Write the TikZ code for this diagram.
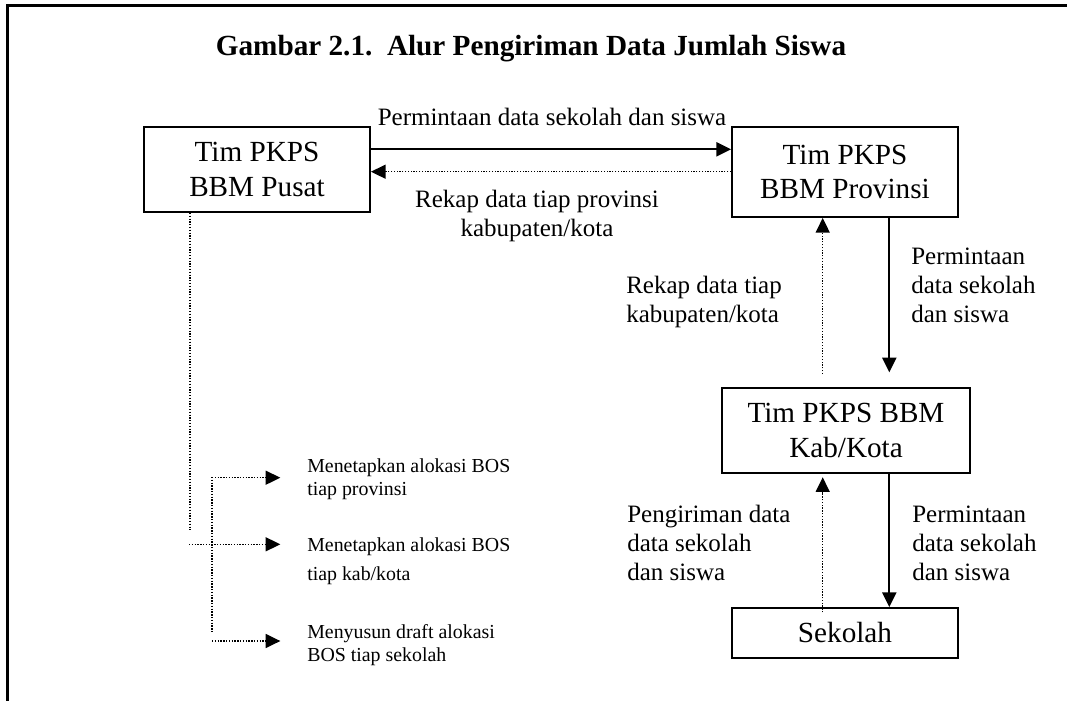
\documentclass[tikz,border=0pt]{standalone}
\usepackage{fontspec}
\setmainfont{Liberation Serif}
\usetikzlibrary{arrows.meta}

% type sizes
\newcommand\boxfont{\fontsize{21.9}{25.9}\selectfont}
\newcommand\lblfont{\fontsize{18.75}{21.6}\selectfont}
\newcommand\notefont{\fontsize{14.9}{17}\selectfont}
\newcommand\headfont{\fontsize{21.9}{25.9}\selectfont\bfseries}

\tikzset{
  unitbox/.style={draw, line width=1.4pt, inner sep=0pt, align=center, font=\boxfont},
  lbl/.style={inner sep=0pt, font=\lblfont},
  note/.style={inner sep=0pt, align=left, font=\notefont},
  sendline/.style={line width=1.4pt, -{Triangle[length=11pt, width=10.5pt]}},
  backline/.style={line width=1pt, dash pattern=on 1pt off 1.1pt,
                   -{Triangle[length=11pt, width=10.5pt]}},
  dotline/.style={line width=1pt, dash pattern=on 1pt off 1.1pt},
}

\begin{document}
\begin{tikzpicture}[x=0.75pt, y=-0.75pt]
  \useasboundingbox (0,0) rectangle (1067,700);
  \clip (0,0) rectangle (1067,700);

  % outer frame, running past the right and lower edges
  \draw[line width=1.9pt] (7.5,5.3) rectangle (1090,730);

  % heading
  \node[inner sep=0pt, font=\headfont, anchor=base] (judul) at (531,55)
    {Gambar 2.1.\ \ Alur Pengiriman Data Jumlah Siswa};

  % units
  \node[unitbox, minimum width=169.5pt, minimum height=63.75pt] (pusat) at (257,169.5)
    {Tim PKPS\\BBM Pusat};
  \node[unitbox, minimum width=169.5pt, minimum height=67.5pt] (prov) at (845,172)
    {Tim PKPS\\BBM Provinsi};
  \node[unitbox, minimum width=186pt, minimum height=63.75pt] (kab) at (846,430.5)
    {Tim PKPS BBM\\Kab/Kota};
  \node[unitbox, minimum width=169.5pt, minimum height=37.5pt] (sekolah) at (845,633)
    {Sekolah};

  % guide coordinates for the connector rows and columns
  \coordinate (rowA) at (0,149.3);
  \coordinate (rowB) at (0,171.7);
  \coordinate (colA) at (889.3,0);
  \coordinate (colB) at (822.7,0);

  % pusat <-> provinsi
  \draw[sendline] (pusat.east |- rowA) -- (prov.west |- rowA);
  \draw[backline] (prov.west |- rowB) -- (pusat.east |- rowB);

  % provinsi <-> kab/kota
  \draw[sendline, shorten >=11pt] (prov.south -| colA) -- (kab.north -| colA);
  \draw[backline, shorten <=9.75pt] (kab.north -| colB) -- (prov.south -| colB);

  % kab/kota <-> sekolah
  \draw[sendline] (kab.south -| colA) -- (sekolah.north -| colA);
  \draw[backline, shorten <=-4pt, shorten >=2.5pt] (sekolah.north -| colB) -- (kab.south -| colB);

  % connector labels (multi-line nodes are placed by their last baseline)
  \node[lbl, anchor=base] (minta1) at (552,125) {Permintaan data sekolah dan siswa};
  \node[lbl, anchor=base, align=center] (rekap1) at (537,236)
    {Rekap data tiap provinsi\\kabupaten/kota};
  \node[lbl, anchor=base west, align=left] (minta2) at (911,322)
    {Permintaan\\data sekolah\\dan siswa};
  \node[lbl, anchor=base west, align=left] (rekap2) at (626,322)
    {Rekap data tiap\\kabupaten/kota};
  \node[lbl, anchor=base west, align=left] (kirim) at (627,580)
    {Pengiriman data\\data sekolah\\dan siswa};
  \node[lbl, anchor=base west, align=left] (minta3) at (912,580)
    {Permintaan\\data sekolah\\dan siswa};

  % decisions taken by the central team
  \node[note, anchor=base west] (tetap1) at (307,495) {Menetapkan alokasi BOS\\tiap provinsi};
  \node[note, anchor=base west] (tetap2) at (307,580) {Menetapkan alokasi BOS\\[4.2pt]tiap kab/kota};
  \node[note, anchor=base west] (susun) at (307,661) {Menyusun draft alokasi\\BOS tiap sekolah};

  \coordinate (trunkEnd) at (190,530);
  \coordinate (midStart) at (189,544.3);
  \coordinate (branchTop) at (212,477.7);
  \coordinate (branchBot) at (212,641);
  \coordinate (railTop) at (212,477);
  \coordinate (railBot) at (212,632);

  \draw[dotline] (pusat.south -| trunkEnd) -- (trunkEnd);
  \draw[dotline] (railTop) -- (railBot);
  \draw[backline, shorten >=20pt] (branchTop) -- (branchTop -| tetap1.west);
  \draw[backline, shorten >=20pt] (midStart) -- (midStart -| tetap2.west);
  \draw[backline, shorten >=20pt] (branchBot) -- (branchBot -| susun.west);
\end{tikzpicture}
\end{document}
